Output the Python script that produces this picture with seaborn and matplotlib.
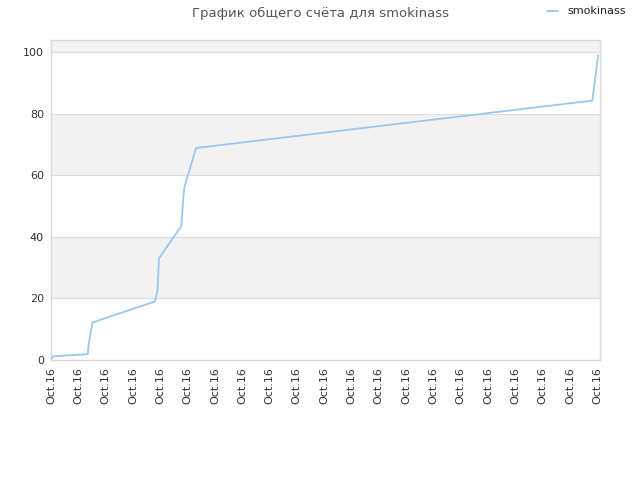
import matplotlib
matplotlib.use("Agg")
import matplotlib.pyplot as plt
import seaborn as sns
import pandas as pd

title = "График общего счёта для smokinass"
series_name = "smokinass"
x_vals = [0.03, 0.07, 1.35, 1.37, 1.52, 3.80, 3.90, 3.95, 4.77, 4.84, 4.88, 5.31, 19.82, 20.03]
y_vals = [0.5, 1.2, 1.9, 4.5, 12.2, 19.0, 22.5, 33.0, 43.5, 52.0, 56.0, 68.9, 84.3, 99.0]
x_tick_labels = ["Oct.16"] * 21
y_ticks = [0, 20, 40, 60, 80, 100]

sns.set_theme(style="white")
plt.rcParams['font.family'] = ['DejaVu Sans']

df = pd.DataFrame({"x": x_vals, "y": y_vals, "s": series_name})

fig = plt.figure(figsize=(6.4, 4.8), dpi=100)
ax = fig.add_axes([51/640, 1-360/480, (600-51)/640, (360-40)/480])

for lo in (20, 60, 100):
    ax.axhspan(lo, lo + 20, color="#f2f2f2", zorder=0, lw=0)
for yv in y_ticks[1:]:
    ax.axhline(yv, color="#dddddd", lw=0.8, zorder=1)

sns.lineplot(data=df, x="x", y="y", hue="s", palette=["#99c7f3"], lw=1.3,
             ax=ax, estimator=None, sort=False, zorder=3)

ax.set_xlim(0, 20.1)
ax.set_ylim(0, 104)
ax.set_xticks(range(len(x_tick_labels)))
ax.set_xticklabels(x_tick_labels, rotation=90, fontsize=8, color="#333333")
ax.set_yticks(y_ticks)
ax.set_yticklabels([str(v) for v in y_ticks], fontsize=8, color="#333333")
ax.tick_params(axis="both", length=0, pad=5)
ax.set_xlabel("")
ax.set_ylabel("")
for sp in ax.spines.values():
    sp.set_color("#d9d9d9")
    sp.set_linewidth(1)

leg = ax.legend(loc="upper right", bbox_to_anchor=(1.0 + 30/549, 1 + 38/320), frameon=False,
                fontsize=8, handlelength=1.0, handletextpad=0.8, borderaxespad=0)
for t in leg.get_texts():
    t.set_color("#222222")

fig.text(320/640, 1-13/480, title, ha="center", va="center", fontsize=9.5, color="#555555")

fig.savefig("out.png", dpi=100)
